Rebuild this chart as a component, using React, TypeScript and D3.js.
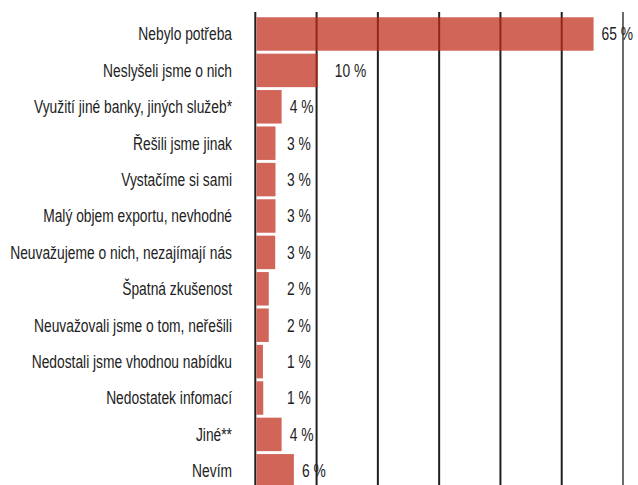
import React from "react";
import * as d3 from "d3";

const categories = [
  "Nebylo potřeba",
  "Neslyšeli jsme o nich",
  "Využití jiné banky, jiných služeb*",
  "Řešili jsme jinak",
  "Vystačíme si sami",
  "Malý objem exportu, nevhodné",
  "Neuvažujeme o nich, nezajímají nás",
  "Špatná zkušenost",
  "Neuvažovali jsme o tom, neřešili",
  "Nedostali jsme vhodnou nabídku",
  "Nedostatek infomací",
  "Jiné**",
  "Nevím",
];

// bar lengths as drawn in the picture (percent on the axis)
const values = [55, 10, 4.1, 3.1, 3.1, 3.1, 3.05, 2, 2, 1.05, 1.1, 4.1, 6.1];
// value labels as printed
const valueLabels = ["65 %", "10 %", "4 %", "3 %", "3 %", "3 %", "3 %", "2 %", "2 %", "1 %", "1 %", "4 %", "6 %"];
const gridTicks = [0, 10, 20, 30, 40, 50, 60];

const W = 638;
const H = 485;
const FONT = "'Liberation Sans', Arial, sans-serif";
const SX = 0.79;

export default function App() {
  const x = d3.scaleLinear().domain([0, 60]).range([255.3, 623]);
  const y = d3
    .scaleBand<string>()
    .domain(categories)
    .range([15.8, 15.8 + 13 * 36.4])
    .paddingInner(0.08)
    .paddingOuter(0.04);

  return (
    <svg
      width={W}
      height={H}
      style={{ position: "absolute", left: 0, top: 0, background: "#fff" }}
      fontFamily={FONT}
    >
      {/* gridlines */}
      {gridTicks.map((t, i) => (
        <line
          key={t}
          x1={x(t)}
          x2={x(t)}
          y1={12}
          y2={H}
          stroke={i === gridTicks.length - 1 ? "#6b6b6b" : "#231f20"}
          strokeWidth={2}
        />
      ))}
      {/* bars */}
      {categories.map((c, i) => {
        const x0 = x(0) + 1.2;
        const w = x(values[i]) - x(0);
        return (
          <rect
            key={c}
            x={x0}
            y={y(c)!}
            width={w}
            height={y.bandwidth()}
            fill="rgb(190,41,23)"
            fillOpacity={0.72}
          />
        );
      })}
      {/* category labels */}
      {categories.map((c) => (
        <text
          key={c}
          transform={`translate(232,${y(c)! + y.bandwidth() / 2}) scale(${SX},1)`}
          dy="0.36em"
          textAnchor="end"
          fontSize={17.5}
          fill="#222"
        >
          {c}
        </text>
      ))}
      {/* value labels */}
      {categories.map((c, i) => {
        const end = x(values[i]) + 1.2;
        const lx = i === 1 ? end + 17 : Math.max(end + 8, 287);
        return (
          <text
            key={c + "v"}
            transform={`translate(${lx},${y(c)! + y.bandwidth() / 2}) scale(${SX},1)`}
            dy="0.36em"
            textAnchor="start"
            fontSize={17.5}
            fill="#222"
          >
            {valueLabels[i]}
          </text>
        );
      })}
    </svg>
  );
}
